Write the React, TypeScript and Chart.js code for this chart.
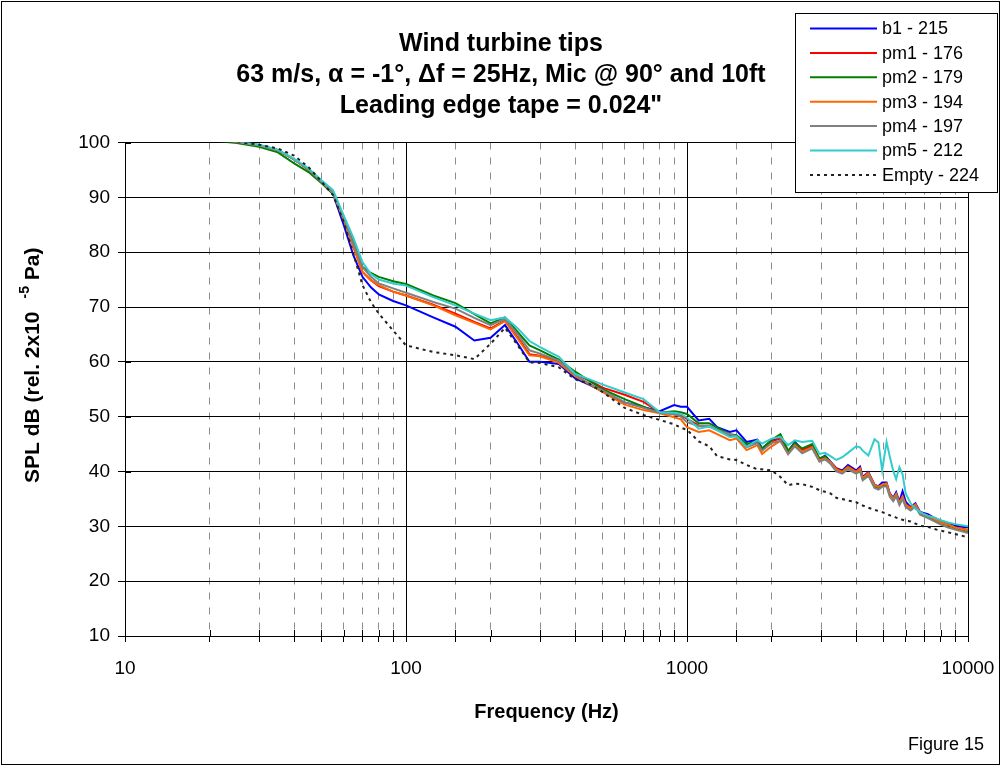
import React, { useEffect, useRef } from "react";
import { Chart, registerables } from "chart.js";

Chart.register(...registerables);

const FONT = 'Arial, "Liberation Sans", Helvetica, sans-serif';

const titleLines = [
  "Wind turbine tips",
  "63 m/s, \u03b1 = -1\u00b0, \u0394f = 25Hz, Mic @ 90\u00b0 and 10ft",
  'Leading edge tape = 0.024"',
];

const xAxisTitle = "Frequency (Hz)";
const yAxisTitleMain = "SPL dB (rel. 2x10";
const yAxisTitleSup = "-5";
const yAxisTitleTail = " Pa)";
const figureLabel = "Figure 15";

const xMin = 10;
const xMax = 10000;
const yMin = 10;
const yMax = 100;
const yStep = 10;

const freqHz = [
  20, 25, 30, 35, 40, 45, 50, 55, 60, 65,
  70, 75, 80, 90, 100, 125, 150, 175, 200, 225,
  250, 275, 300, 350, 400, 450, 500, 600, 700, 800,
  900, 950, 1000, 1100, 1200, 1280, 1420, 1500, 1630, 1780,
  1850, 2000, 2150, 2290, 2420, 2570, 2790, 2960, 3100, 3240,
  3400, 3570, 3740, 4000, 4130, 4220, 4420, 4650, 4800, 4950,
  5130, 5270, 5420, 5550, 5700, 5850, 6000, 6250, 6500, 6750,
  7200, 7600, 8000, 8500, 9000, 9500, 10000,
];

const b1 = [
  100.6, 100.1, 99.5, 98.6, 96.9, 95.1, 92.9, 90.6, 85.0, 79.4,
  75.5, 73.6, 72.3, 71.1, 70.3, 68.1, 66.4, 63.9, 64.4, 66.7,
  63.3, 60.0, 60.0, 59.6, 57.0, 55.8, 54.6, 52.6, 51.7, 51.0,
  52.1, 51.8, 51.8, 49.3, 49.6, 48.1, 47.2, 47.5, 45.4, 45.8,
  44.2, 45.6, 46.2, 43.6, 45.4, 44.0, 44.8, 42.2, 42.9, 41.8,
  40.6, 40.2, 41.2, 40.2, 40.9, 39.0, 39.9, 37.6, 37.3, 38.0,
  38.0, 36.0, 35.2, 36.2, 34.5, 36.4, 34.5, 33.5, 34.2, 32.6,
  32.2, 31.5, 31.0, 30.6, 30.2, 29.9, 29.8,
];

const pm1 = [
  100.6, 100.1, 99.5, 98.6, 96.9, 95.1, 92.9, 90.8, 86.0, 81.0,
  76.4, 74.9, 73.8, 72.8, 72.1, 70.4, 68.8, 67.3, 66.1, 67.5,
  64.4, 61.4, 61.1, 60.0, 57.8, 56.6, 55.3, 54.0, 52.7, 50.8,
  50.6, 50.3, 49.6, 48.4, 48.2, 47.6, 46.5, 46.5, 44.6, 45.3,
  44.0, 45.5, 46.0, 43.6, 45.0, 44.0, 44.6, 42.2, 42.6, 41.7,
  40.5, 40.0, 40.9, 40.0, 40.6, 38.8, 39.7, 37.4, 37.1, 37.6,
  37.7, 35.8, 35.0, 35.9, 34.3, 35.5, 34.0, 33.4, 34.0, 32.5,
  31.9, 31.3, 30.7, 30.3, 29.8, 29.6, 29.3,
];

const pm2 = [
  100.4, 99.9, 99.2, 98.2, 96.2, 94.6, 92.6, 90.6, 86.5, 81.8,
  77.3, 76.2, 75.5, 74.7, 74.2, 72.1, 70.7, 68.7, 67.0, 68.1,
  65.4, 63.0, 62.1, 60.4, 58.2, 56.5, 55.0, 53.2, 51.8, 50.7,
  51.0, 50.8, 50.5, 48.8, 48.8, 48.0, 46.8, 46.6, 45.0, 45.5,
  44.2, 45.8, 46.8, 43.8, 45.2, 44.2, 45.0, 42.4, 42.8, 41.6,
  40.3, 39.9, 40.8, 39.9, 40.4, 38.6, 39.5, 37.2, 36.9, 37.5,
  37.6, 35.7, 34.9, 35.8, 34.2, 35.2, 33.8, 33.2, 33.9, 32.4,
  31.8, 31.2, 30.6, 30.2, 29.7, 29.4, 29.1,
];

const pm3 = [
  100.6, 100.1, 99.5, 98.6, 96.9, 95.1, 92.9, 90.8, 86.0, 81.0,
  76.4, 74.9, 74.0, 72.8, 72.1, 70.3, 68.5, 67.1, 65.9, 67.4,
  64.2, 61.2, 61.0, 59.8, 57.4, 55.9, 54.5, 52.2, 51.2, 50.6,
  49.9, 49.5, 48.1, 47.2, 47.5, 46.8, 45.7, 46.0, 43.9, 44.8,
  43.2, 44.6, 45.6, 43.2, 44.8, 43.6, 44.4, 42.0, 42.4, 41.7,
  40.4, 39.9, 40.8, 39.9, 40.5, 38.8, 39.7, 37.5, 37.2, 37.6,
  37.8, 35.9, 35.0, 35.9, 34.3, 35.4, 33.9, 33.3, 34.0, 32.5,
  31.9, 31.3, 30.7, 30.3, 29.8, 29.5, 29.3,
];

const pm4 = [
  100.6, 100.1, 99.5, 98.6, 96.9, 95.1, 92.9, 90.8, 86.2, 81.5,
  77.3, 75.5, 74.3, 73.4, 72.6, 70.9, 69.7, 68.0, 66.7, 67.8,
  65.0, 62.1, 61.5, 60.2, 57.6, 56.0, 54.8, 52.6, 51.6, 50.7,
  50.4, 50.0, 49.0, 48.3, 48.4, 47.6, 46.8, 46.4, 44.4, 45.2,
  43.8, 45.2, 45.6, 43.2, 44.6, 43.3, 44.2, 41.8, 42.2, 41.4,
  40.0, 39.6, 40.4, 39.6, 40.0, 38.4, 39.2, 37.0, 36.7, 37.2,
  37.3, 35.4, 34.6, 35.5, 33.9, 35.0, 33.5, 32.9, 33.6, 32.1,
  31.5, 30.9, 30.3, 29.8, 29.4, 29.1, 28.8,
];

const pm5 = [
  100.6, 100.2, 99.6, 98.7, 97.0, 95.3, 93.1, 91.3, 86.7, 82.6,
  78.2, 76.0, 75.0, 74.3, 73.9, 71.8, 70.3, 68.8, 67.6, 68.1,
  66.1, 63.8, 62.7, 60.9, 57.8, 56.8, 55.9, 54.4, 53.2, 50.8,
  50.7, 50.5, 49.8, 47.8, 48.2, 47.5, 46.3, 46.4, 44.5, 45.7,
  45.1, 46.0, 46.3, 44.8, 45.7, 45.4, 45.6, 43.2, 43.4, 42.8,
  42.1, 42.6, 43.4, 44.6, 44.4, 43.8, 42.9, 45.9, 45.3, 40.2,
  45.4, 42.7, 40.1, 38.6, 40.8, 39.5, 36.0, 34.2, 33.2, 32.6,
  31.9, 31.6, 31.1, 30.7, 30.4, 30.2, 30.0,
];

const empty = [
  100.6, 100.1, 99.6, 98.9, 97.6, 95.5, 92.9, 90.4, 85.5, 79.7,
  74.0, 70.9, 68.8, 65.7, 63.0, 61.8, 61.2, 60.5, 63.3, 66.2,
  63.0, 59.9, 59.8, 59.0, 56.8, 56.0, 54.5, 51.6, 50.3, 49.4,
  48.6, 48.0, 47.6, 45.5, 44.6, 42.8, 42.2, 42.1, 41.2, 40.4,
  40.4, 40.2, 39.0, 37.5, 37.8, 37.7, 37.2, 36.6, 36.3, 36.0,
  35.2, 35.0, 34.7, 34.4, 34.0, 33.8, 33.4, 33.0, 32.8, 32.6,
  32.3, 32.0, 31.9, 31.6, 31.3, 31.2, 31.0, 30.9, 30.5, 30.1,
  29.9, 29.5, 29.2, 28.9, 28.6, 28.3, 28.0,
];

const seriesLabels = [
  "b1 - 215",
  "pm1 - 176",
  "pm2 - 179",
  "pm3 - 194",
  "pm4 - 197",
  "pm5 - 212",
  "Empty - 224",
];
const seriesValues = [b1, pm1, pm2, pm3, pm4, pm5, empty];
const seriesColors = ["#0000FF", "#FF0000", "#008000", "#FF6600", "#808080", "#33CCCC", "#222222"];
const seriesDashes: number[][] = [[], [], [], [], [], [], [3, 4]];

const isDecade = (v: number | undefined) => {
  if (v === undefined || v === null || v <= 0) return false;
  const l = Math.log10(v);
  return Math.abs(l - Math.round(l)) < 1e-9;
};

const framePlugin = {
  id: "frame",
  beforeDraw(chart: any) {
    const ctx = chart.ctx;
    ctx.save();
    ctx.fillStyle = "#ffffff";
    ctx.fillRect(0, 0, chart.width, chart.height);
    ctx.restore();
  },
  afterDraw(chart: any) {
    const ctx = chart.ctx;
    ctx.save();
    ctx.strokeStyle = "#000";
    ctx.lineWidth = 1;
    ctx.strokeRect(1.5, 1.5, 998, 763);
    ctx.restore();
  },
};

const innerTicksPlugin = {
  id: "innerTicks",
  beforeDatasetsDraw(chart: any) {
    const ctx = chart.ctx;
    const { left, bottom } = chart.chartArea;
    const xs = chart.scales.x;
    const ys = chart.scales.y;
    ctx.save();
    ctx.strokeStyle = "#000";
    ctx.lineWidth = 1;
    ctx.beginPath();
    xs.ticks.forEach((t: any) => {
      const px = Math.round(xs.getPixelForValue(t.value)) + 0.5;
      ctx.moveTo(px, bottom - 6);
      ctx.lineTo(px, bottom);
    });
    ys.ticks.forEach((t: any) => {
      const py = Math.round(ys.getPixelForValue(t.value)) + 0.5;
      ctx.moveTo(left, py);
      ctx.lineTo(left + 6, py);
    });
    ctx.stroke();
    ctx.restore();
  },
};

const annotationsPlugin = {
  id: "annotations",
  afterDraw(chart: any) {
    const ctx = chart.ctx;
    const area = chart.chartArea;
    ctx.save();
    // y axis title with superscript
    ctx.translate(33, (area.top + area.bottom) / 2 - 24);
    ctx.rotate(-Math.PI / 2);
    ctx.fillStyle = "#000";
    ctx.textBaseline = "middle";
    ctx.textAlign = "left";
    const big = `bold 21px ${FONT}`;
    const small = `bold 14px ${FONT}`;
    ctx.font = big;
    const w1 = ctx.measureText(yAxisTitleMain).width;
    const w3 = ctx.measureText(yAxisTitleTail).width;
    ctx.font = small;
    const w2 = ctx.measureText(yAxisTitleSup).width;
    const gap = 13;
    const total = w1 + gap + w2 + w3;
    let x = -total / 2;
    ctx.font = big;
    ctx.fillText(yAxisTitleMain, x, 0);
    x += w1 + gap;
    ctx.font = small;
    ctx.fillText(yAxisTitleSup, x, -8);
    x += w2;
    ctx.font = big;
    ctx.fillText(yAxisTitleTail, x, 0);
    ctx.restore();

    // figure label
    ctx.save();
    ctx.fillStyle = "#000";
    ctx.font = `18px ${FONT}`;
    ctx.textAlign = "right";
    ctx.textBaseline = "middle";
    ctx.fillText(figureLabel, 984, 745);
    ctx.restore();

    // legend
    const lx = 795;
    const ly = 13;
    const lw = 202;
    const lh = 179;
    ctx.save();
    ctx.fillStyle = "#fff";
    ctx.fillRect(lx, ly, lw, lh);
    ctx.strokeStyle = "#000";
    ctx.lineWidth = 1;
    ctx.strokeRect(lx + 0.5, ly + 0.5, lw, lh);
    ctx.font = `18px ${FONT}`;
    ctx.textBaseline = "middle";
    ctx.textAlign = "left";
    chart.data.datasets.forEach((ds: any, i: number) => {
      const y = ly + 15.5 + i * 24.4;
      ctx.strokeStyle = ds.borderColor;
      ctx.lineWidth = ds.borderWidth;
      ctx.setLineDash(ds.borderDash || []);
      ctx.beginPath();
      ctx.moveTo(810, y);
      ctx.lineTo(877, y);
      ctx.stroke();
      ctx.setLineDash([]);
      ctx.fillStyle = "#000";
      ctx.fillText(ds.label, 882, y + 1);
    });
    ctx.restore();
  },
};

export default function App() {
  const canvasRef = useRef<HTMLCanvasElement | null>(null);

  useEffect(() => {
    if (!canvasRef.current) return;
    const datasets = seriesLabels.map((label, si) => ({
      label,
      data: freqHz.map((f, i) => ({ x: f, y: seriesValues[si][i] })),
      borderColor: seriesColors[si],
      backgroundColor: seriesColors[si],
      borderWidth: 2,
      borderDash: seriesDashes[si],
      pointRadius: 0,
      tension: 0,
      fill: false,
      clip: 0,
      order: seriesLabels.length - 1 - si,
    }));

    const chart = new Chart(canvasRef.current, {
      type: "line",
      data: { datasets },
      plugins: [framePlugin, innerTicksPlugin, annotationsPlugin],
      options: {
        responsive: false,
        animation: false,
        events: [],
        layout: { padding: { left: 0, right: 0, top: 0, bottom: 0 } },
        plugins: {
          legend: { display: false },
          tooltip: { enabled: false },
          title: {
            display: true,
            text: titleLines,
            color: "#000",
            font: { family: FONT, size: 25, weight: "bold", lineHeight: 1.24 },
            padding: { top: 28.5, bottom: 21 },
          },
        },
        scales: {
          x: {
            type: "logarithmic",
            min: xMin,
            max: xMax,
            afterFit: (s: any) => {
              s.height = 131;
              s.paddingRight = 34;
            },
            ticks: {
              autoSkip: false,
              maxRotation: 0,
              minRotation: 0,
              color: "#000",
              padding: 15,
              font: { family: FONT, size: 19 },
              callback: (v: any) => (isDecade(Number(v)) ? String(Number(v)) : ""),
            },
            grid: {
              color: (c: any) => (c.tick && !isDecade(c.tick.value) ? "#8c8c8c" : "#000"),
              lineWidth: 1,
              tickLength: 6,
              tickColor: "#000",
              tickBorderDash: [],
            },
            border: {
              display: true,
              color: "#000",
              dash: (c: any) => (c.tick && !isDecade(c.tick.value) ? [7, 8] : []),
            },
            title: {
              display: true,
              text: xAxisTitle,
              color: "#000",
              font: { family: FONT, size: 20, weight: "bold", lineHeight: 1.2 },
              padding: { top: 0, bottom: 43 },
            },
          },
          y: {
            type: "linear",
            min: yMin,
            max: yMax,
            afterFit: (s: any) => {
              s.width = 125;
            },
            ticks: {
              stepSize: yStep,
              color: "#000",
              padding: 8,
              font: { family: FONT, size: 19 },
            },
            grid: {
              color: "#000",
              lineWidth: 1,
              tickLength: 7,
              tickColor: "#000",
            },
            border: { display: true, color: "#000" },
          },
        },
      } as any,
    });

    return () => {
      chart.destroy();
    };
  }, []);

  return (
    <div style={{ position: "absolute", left: 0, top: 0, width: 1002, height: 767, background: "#fff" }}>
      <canvas ref={canvasRef} width={1002} height={767} style={{ display: "block" }} />
    </div>
  );
}
